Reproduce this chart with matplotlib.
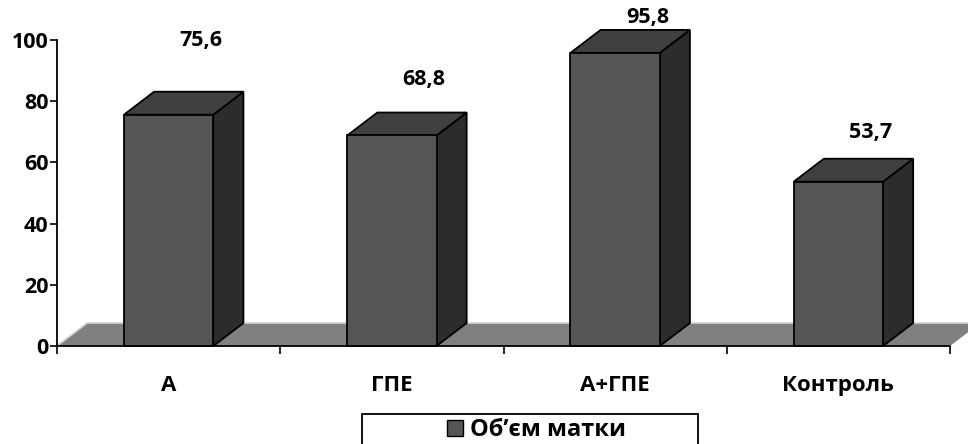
import numpy as np
import matplotlib
matplotlib.use("Agg")
import matplotlib.pyplot as plt
from matplotlib.patches import Polygon, Rectangle
from matplotlib.lines import Line2D

categories = ["А", "ГПЕ", "А+ГПЕ", "Контроль"]
values = [75.6, 68.8, 95.8, 53.7]
value_labels = ["75,6", "68,8", "95,8", "53,7"]
series_name = "Об’єм матки"
# extra height (in value units) of each value label above its bar, as placed in the original
label_lift = [24.4, 18.2, 11.7, 16.2]

plt.rcParams["font.family"] = ["Open Sans", "DejaVu Sans"]
plt.rcParams["font.weight"] = "bold"

W, H = 968, 444
fig = plt.figure(figsize=(W / 100, H / 100), dpi=100)
ax = fig.add_axes([57 / W, (H - 346) / H, 893 / W, 306 / H])
ax.set_xlim(-0.5, len(categories) - 0.5)
ax.set_ylim(0, 100)

# 3d depth offset in data units
dx, dy = 0.135, 7.5
bw = 0.4
front, top, side = "#555555", "#404040", "#2c2c2c"

# floor
x0, x1 = -0.5, len(categories) - 0.5
ax.add_patch(Polygon([(x0, 0), (x1, 0), (x1 + dx, dy), (x0 + dx, dy)], closed=True,
                     facecolor="#808080", edgecolor="none", clip_on=False, zorder=1))
ax.plot([x0, x0 + dx, x1 + dx], [0, dy, dy], color="#d0d0d0", lw=1.2, clip_on=False, zorder=1.5)

for i, v in enumerate(values):
    l, r = i - bw / 2, i + bw / 2
    ax.add_patch(Polygon([(r, 0), (r + dx, dy), (r + dx, v + dy), (r, v)], closed=True,
                         facecolor=side, edgecolor="black", lw=1.3, clip_on=False, zorder=3))
    ax.add_patch(Polygon([(l, v), (r, v), (r + dx, v + dy), (l + dx, v + dy)], closed=True,
                         facecolor=top, edgecolor="black", lw=1.3, clip_on=False, zorder=3))
    ax.add_patch(Rectangle((l, 0), bw, v, facecolor=front, edgecolor="black", lw=1.3,
                           clip_on=False, zorder=4))
    ax.text(i + dx + 0.01, v + label_lift[i], value_labels[i], ha="center", va="center",
            fontsize=15.5, fontweight="bold", zorder=5)

for s in ["top", "right"]:
    ax.spines[s].set_visible(False)
ax.spines["left"].set_linewidth(1.3)
ax.spines["bottom"].set_linewidth(1.3)
ax.spines["bottom"].set_zorder(6)

ax.set_yticks(np.arange(0, 101, 20))
ax.tick_params(axis="y", direction="out", length=5, width=1.2, labelsize=15.5, pad=1)
ax.set_xticks(np.arange(-0.5, len(categories), 1.0))
ax.set_xticklabels([])
ax.set_xticks(np.arange(len(categories)), minor=True)
ax.set_xticklabels(categories, minor=True)
ax.tick_params(axis="x", which="major", direction="out", length=6, width=1.2)
ax.tick_params(axis="x", which="minor", length=0, labelsize=16, pad=21)
for t in ax.get_yticklabels() + ax.get_xticklabels(minor=True):
    t.set_fontweight("bold")

# legend box
fig.patches.append(Rectangle((362 / W, -0.02), 336 / W, (H - 414) / H + 0.02,
                             transform=fig.transFigure, facecolor="white",
                             edgecolor="black", lw=1.3, zorder=0))
handle = Line2D([], [], marker="s", linestyle="none", markersize=11,
                markerfacecolor=front, markeredgecolor="black", markeredgewidth=1)
fig.legend([handle], [series_name], loc="center", bbox_to_anchor=(535 / W, (H - 430) / H),
           frameon=False, prop={"size": 17, "weight": "bold"}, handletextpad=0.2,
           borderpad=0, handlelength=0.9)

fig.savefig("out.png", dpi=100)
